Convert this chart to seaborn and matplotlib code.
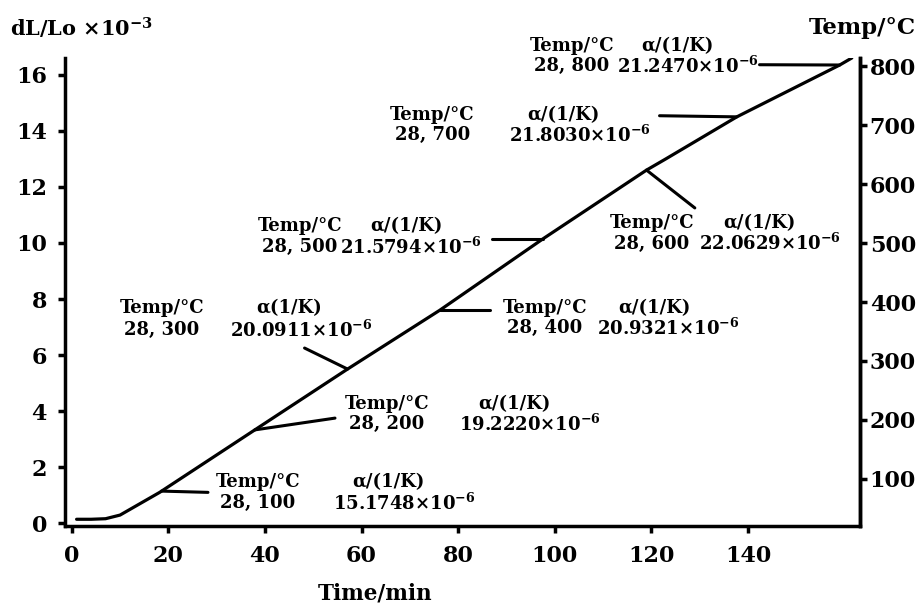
import numpy as np
import matplotlib
matplotlib.use("Agg")
import matplotlib.pyplot as plt
import seaborn as sns
import pandas as pd

# ---- data ----
time_min = [1.0, 4.0, 7.0, 10.0, 18.2, 41.0, 57.1, 76.2, 97.5, 119.0, 123.0, 137.7, 159.0, 161.5]
dl_lo = [0.14, 0.14, 0.16, 0.29, 1.10, 3.68, 5.50, 7.60, 10.14, 12.60, 13.00, 14.50, 16.35, 16.60]

temps = [100, 200, 300, 400, 500, 600, 700, 800]
alpha_vals = ["15.1748", "19.2220", "20.0911", "20.9321", "21.5794", "22.0629", "21.8030", "21.2470"]
alpha_heads = ["α/(1/K)", "α/(1/K)", "α(1/K)", "α/(1/K)", "α/(1/K)", "α/(1/K)", "α/(1/K)", "α/(1/K)"]

x_ticks = [0, 20, 40, 60, 80, 100, 120, 140]
y_ticks = [0, 2, 4, 6, 8, 10, 12, 14, 16]
t_ticks = [100, 200, 300, 400, 500, 600, 700, 800]

# annotation layout (data coords): temp-block x, alpha-head x, alpha-value x, top line y, bottom line y
label_pos = [
    (38.5, 65.6, 68.9, 1.46, 0.71),
    (65.2, 91.7, 94.8, 4.25, 3.54),
    (18.6, 45.1, 47.4, 7.68, 6.89),
    (97.9, 120.7, 123.4, 7.68, 6.96),
    (47.2, 69.2, 70.2, 10.60, 9.86),
    (120.1, 142.4, 144.5, 10.70, 9.98),
    (74.7, 101.9, 105.2, 14.57, 13.86),
    (103.5, 125.3, 127.5, 17.04, 16.30),
]
# leader lines: (x on curve, far end x, far end y)
leaders = [
    (18.6, 28.2, 1.10),
    (37.9, 54.5, 3.75),
    (57.1, 48.2, 6.25),
    (76.2, 86.5, 7.60),
    (97.5, 87.0, 10.14),
    (119.0, 129.0, 11.25),
    (137.7, 121.7, 14.54),
    (159.0, 142.4, 16.36),
]

sns.set_theme(style="ticks")
plt.rcParams['font.family'] = ['DejaVu Serif']
plt.rcParams['font.weight'] = 'bold'
plt.rcParams['mathtext.fontset'] = 'dejavuserif'
plt.rcParams['mathtext.default'] = 'bf'
for k in ['text.color', 'axes.labelcolor', 'xtick.color', 'ytick.color', 'axes.edgecolor']:
    plt.rcParams[k] = 'black'

fig = plt.figure(figsize=(9.18, 6.07), dpi=100)
ax = fig.add_axes([65/918, 1-526/607, (860-65)/918, (526-58)/607])

df = pd.DataFrame({"Time": time_min, "dL": dl_lo})
sns.lineplot(data=df, x="Time", y="dL", ax=ax, color="black", lw=2.3, legend=False)

ax.set_xlim(-1.4, 163.2)
ax.set_ylim(-0.1, 16.6)
ax.set_xticks(x_ticks)
ax.set_yticks(y_ticks)
ax.set_xlabel("")
ax.set_ylabel("")
for s in ["left", "bottom", "right"]:
    ax.spines[s].set_linewidth(2.5)
    ax.spines[s].set_color("black")
ax.spines["top"].set_visible(False)
ax.tick_params(axis="y", labelsize=16, width=2.5, length=5, colors="black", pad=8)
ax.tick_params(axis="x", labelsize=16, width=2.5, length=5, colors="black", pad=9)
for lbl in ax.get_xticklabels() + ax.get_yticklabels():
    lbl.set_fontweight("bold")

ax2 = ax.twinx()
ax2.set_ylim(20, 814)
ax2.set_yticks(t_ticks)
for s in ["left", "bottom", "top"]:
    ax2.spines[s].set_visible(False)
ax2.spines["right"].set_linewidth(2.5)
ax2.tick_params(axis="y", labelsize=16, width=2.5, length=5, colors="black", pad=2)
for lbl in ax2.get_yticklabels():
    lbl.set_fontweight("bold")

fs = 13
for T, head, val, (lx, hx, vx, ty, by), (cx, ex, ey) in zip(temps, alpha_heads, alpha_vals, label_pos, leaders):
    ax.text(lx, ty, "Temp/°C", ha="center", va="center", fontsize=fs, fontweight="bold")
    ax.text(lx, by, f"28, {T}", ha="center", va="center", fontsize=fs, fontweight="bold")
    ax.text(hx, ty, head, ha="center", va="center", fontsize=fs, fontweight="bold")
    ax.text(vx, by, val + r"×10$^{-6}$", ha="center", va="center", fontsize=fs, fontweight="bold")
    cy = float(np.interp(cx, time_min, dl_lo))
    ax.plot([cx, ex], [cy, ey], color="black", lw=2.2, clip_on=False)

fig.text(375/918, 1-594/607, "Time/min", ha="center", va="center", fontsize=15.5, fontweight="bold")
fig.text(10/918, 1-28/607, r"dL/Lo ×10$^{-3}$", ha="left", va="center", fontsize=15, fontweight="bold")
fig.text(862/918, 1-28/607, "Temp/°C", ha="center", va="center", fontsize=16.5, fontweight="bold")

fig.savefig("out.png", dpi=100)
